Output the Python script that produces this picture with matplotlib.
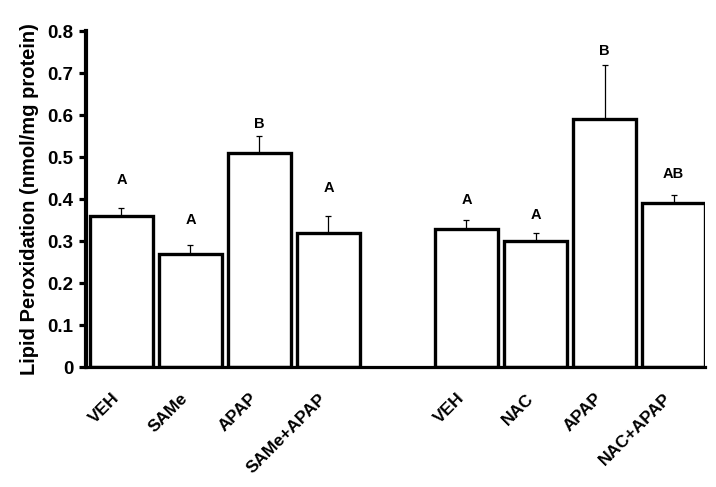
import numpy as np
import matplotlib
matplotlib.use('Agg')
import matplotlib.pyplot as plt
import matplotlib.transforms as mtransforms

plt.rcParams['font.family'] = ['Liberation Sans', 'DejaVu Sans']
plt.rcParams['font.weight'] = 'bold'

# data
labels = ['VEH', 'SAMe', 'APAP', 'SAMe+APAP', 'VEH', 'NAC', 'APAP', 'NAC+APAP']
means = [0.36, 0.27, 0.51, 0.32, 0.33, 0.30, 0.59, 0.39]
errs = [0.02, 0.02, 0.04, 0.04, 0.02, 0.02, 0.13, 0.02]
letters = ['A', 'A', 'B', 'A', 'A', 'A', 'B', 'AB']
letter_y = [0.445, 0.35, 0.58, 0.427, 0.398, 0.362, 0.752, 0.46]

pos = np.array([0, 1, 2, 3, 5, 6, 7, 8])

fig = plt.figure(figsize=(7.16, 4.87), dpi=100)
ax = fig.add_axes([0.120, 0.246, 0.865, 0.690])

ax.bar(pos, means, width=0.91, color='white', edgecolor='black', linewidth=2.4, zorder=2)
ax.errorbar(pos, means, yerr=[np.zeros(len(errs)), errs], fmt='none',
            ecolor='black', elinewidth=0.9, capsize=2.5, capthick=0.9, zorder=1)

for x, t, y in zip(pos, letters, letter_y):
    ax.text(x, y, t, ha='center', va='center', fontsize=10.5, fontweight='bold')

ax.set_xlim(-0.515, 8.46)
ax.set_ylim(0, 0.8)
ax.set_yticks(np.arange(0, 0.81, 0.1))
ax.set_yticklabels(['0'] + ['%.1f' % v for v in np.arange(0.1, 0.81, 0.1)])
ax.set_xticks(pos)
ax.set_xticklabels(labels, rotation=45, ha='right', rotation_mode='anchor')

for s in ['top', 'right']:
    ax.spines[s].set_visible(False)
ax.spines['left'].set_linewidth(3)
ax.spines['bottom'].set_linewidth(2.3)

ax.tick_params(axis='y', direction='out', length=5, width=2.3, labelsize=13.5, pad=4)
ax.tick_params(axis='x', length=0, labelsize=12.5, pad=14)
shift = mtransforms.ScaledTranslation(-0.10, -0.04, fig.dpi_scale_trans)
for lab in ax.get_xticklabels():
    lab.set_fontweight('bold')
    lab.set_transform(lab.get_transform() + shift)
for lab in ax.get_yticklabels():
    lab.set_fontweight('bold')

ax.set_ylabel('Lipid Peroxidation (nmol/mg protein)', fontsize=14.5, fontweight='bold', labelpad=6)

fig.savefig('out.png', dpi=100)
